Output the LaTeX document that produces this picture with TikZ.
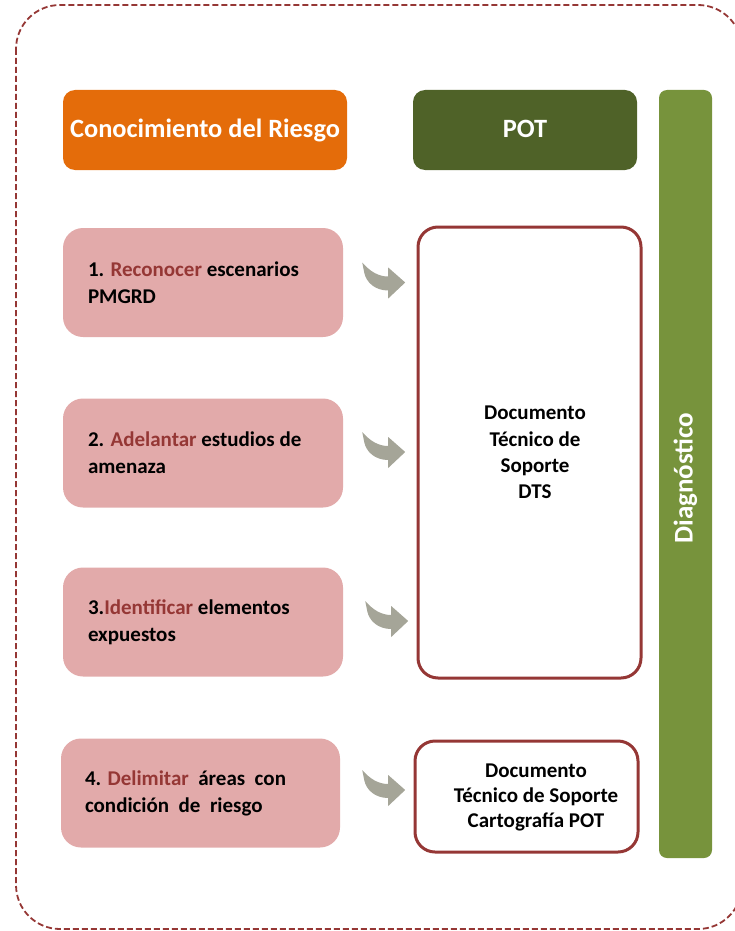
\documentclass[tikz,border=0pt]{standalone}
\usepackage{fontspec}
\setmainfont{Carlito}
\usetikzlibrary{calc}
\definecolor{frameRed}{RGB}{149,55,53}
\definecolor{titleOrange}{RGB}{228,108,10}
\definecolor{potGreen}{RGB}{79,98,40}
\definecolor{barGreen}{RGB}{119,147,60}
\definecolor{pinkFill}{RGB}{226,170,170}
\definecolor{arrowGray}{RGB}{165,165,152}
\newcommand\redword[1]{\textcolor{frameRed}{#1}}
\begin{document}
\begin{tikzpicture}[x=1pt,y=-1pt,
  titlebox/.style={rounded corners=12pt, text=white, font=\bfseries\fontsize{26.4}{30}\selectfont, inner sep=0pt},
  pinkbox/.style={fill=pinkFill, rounded corners=20pt, align=flush left, inner ysep=0pt,
    font=\bfseries\fontsize{21}{27}\selectfont, minimum height=109pt},
  docbox/.style={draw=frameRed, line width=3pt, fill=white, rounded corners=20pt, inner sep=0pt},
  doctext/.style={align=center, font=\bfseries\fontsize{21}{26.3}\selectfont, inner sep=0pt},
  curvarrow/.pic={\fill[arrowGray] (0,0) .. controls (8,9) and (16,14) .. (26,14) -- (26,5) -- (43,20) -- (26,36) -- (26,28) .. controls (13,28) and (4,20) .. (2,10) -- cycle;}
]
\useasboundingbox (0,0) rectangle (735,931);
\clip (0,0) rectangle (735,931);
\draw[frameRed, line width=1.8pt, dash pattern=on 6pt off 3pt, rounded corners=44pt] (16,5) rectangle (742,929);

\node[titlebox, fill=titleOrange, minimum width=284pt, minimum height=80pt] (cr) at (205,130) {\raisebox{3pt}{Conocimiento del Riesgo}};
\node[titlebox, fill=potGreen, minimum width=224pt, minimum height=80pt] (pot) at (525,130) {\raisebox{2pt}{POT}};
\node[fill=barGreen, rounded corners=8pt, minimum width=53pt, minimum height=768pt, inner sep=0pt] (diag) at (685.5,474) {};
\node[text=white, font=\bfseries\fontsize{27}{30}\selectfont, rotate=90, inner sep=0pt] (diagt) at ($(diag.center)+(0,4)$) {Diagnóstico};

\node[pinkbox, inner xsep=25pt, text width=230pt] (b1) at (203,282.5) {1. \redword{Reconocer} escenarios\\PMGRD};
\node[pinkbox, inner xsep=25pt, text width=230pt] (b2) at (203,453) {2. \redword{Adelantar} estudios de\\amenaza};
\node[pinkbox, inner xsep=25pt, text width=230pt] (b3) at (203,622) {3.\redword{Identificar} elementos\\expuestos};
\node[pinkbox, inner xsep=24pt, text width=231pt] (b4) at (200.5,793) {4. \redword{Delimitar}\ \ áreas\ \ con\\condición\ \ de\ \ riesgo};

\node[docbox, minimum width=223pt, minimum height=451pt] (dts) at (529.5,452.5) {};
\node[doctext] (dtst) at (535,452.5) {Documento\\Técnico de\\Soporte\\DTS};
\node[docbox, minimum width=223pt, minimum height=111pt] (carto) at (526.5,796.5) {};
\node[doctext, font=\bfseries\fontsize{21}{25}\selectfont] (cartot) at (536,797) {Documento\\Técnico de Soporte\\Cartografía POT};

\pic at ($(b1.east)+(19,-20)$) {curvarrow};
\pic at ($(b2.east)+(19,-21)$) {curvarrow};
\pic at ($(b3.east)+(22,-21)$) {curvarrow};
\pic at ($(b4.east)+(22,-23)$) {curvarrow};
\end{tikzpicture}
\end{document}
